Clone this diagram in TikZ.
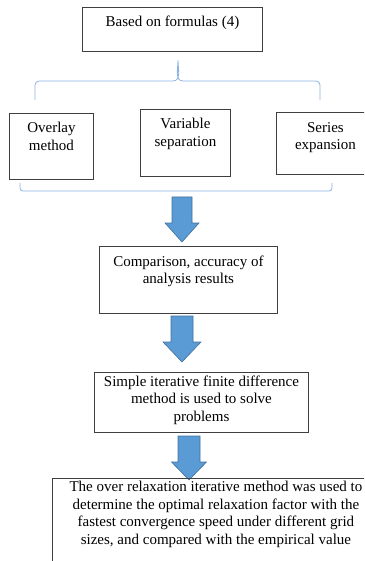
\documentclass[tikz,border=0pt]{standalone}
\usepackage{fontspec}
\setmainfont{Liberation Serif}
\definecolor{boxline}{HTML}{3F3F3F}
\definecolor{bracecol}{HTML}{8DB3E2}
\definecolor{arrowfill}{HTML}{5B9BD5}
\definecolor{arrowedge}{HTML}{41719C}
\tikzset{
  flowbox/.style={draw=boxline, line width=0.9pt, anchor=north west,
    inner xsep=0pt, inner ysep=#1, font=\fontsize{15}{17.5}\selectfont},
  flowbox/.default=9pt,
  bracket/.style={draw=bracecol, line width=0.8pt},
  blockarrow/.style={fill=arrowfill, draw=arrowedge, line width=0.6pt, line join=miter}
}
% top-aligned, centred text block of given inner height and width
\newcommand\boxtext[3]{\parbox[t][#1][t]{#2}{\centering #3}}
% down-pointing block arrow: centre x, top, neck, tip, shaft half width, head half width
\newcommand\flowarrow[6]{%
  \filldraw[blockarrow] ({#1-#5},#2) -- ({#1+#5},#2) -- ({#1+#5},#3) -- ({#1+#6},#3)
    -- (#1,#4) -- ({#1-#6},#3) -- ({#1-#5},#3) -- cycle;}
\begin{document}
\begin{tikzpicture}[x=1pt,y=-1pt]
\useasboundingbox (0,0) rectangle (364,561);
\clip (0,0) rectangle (364,561);

% source box
\node[flowbox=8pt] (formulas) at (82,7) {\boxtext{28pt}{180pt}{Based on formulas (4)}};

% brace fanning out to the three methods
\draw[bracket] (35,100) -- (35,85) to[out=90,in=180] (39,81) -- (173,81)
  to[out=0,in=-90] (178,60) to[out=-90,in=180] (183,81) -- (316,81)
  to[out=0,in=90] (320,85) -- (320,100);

% the three analytical methods
\node[flowbox=9pt] (overlay) at (9,113) {\boxtext{48pt}{84pt}{Overlay\\method}};
\node[flowbox=9pt] (separation) at (140,109) {\boxtext{49pt}{90pt}{Variable\\separation}};
\node[flowbox=10pt] (series) at (276,112) {\boxtext{42pt}{98pt}{Series\\expansion}};

% bracket gathering the methods
\draw[bracket] (20,183) -- (20,188) to[out=-90,in=180] (23,191) -- (329,191)
  to[out=0,in=-90] (332,188) -- (332,183);

\flowarrow{182}{197}{223}{242}{10}{17}

\node[flowbox=9pt] (comparison) at (99,246) {\boxtext{49pt}{178pt}{Comparison, accuracy of\\analysis results}};

\flowarrow{182}{316}{342}{362}{11}{19}

\node[flowbox=3pt] (simple) at (94,372) {\boxtext{54pt}{214pt}{Simple iterative finite difference\\method is used to solve\\problems}};

\flowarrow{189}{436}{462}{480}{11}{17.5}

\node[flowbox=3pt] (sor) at (52,478) {\boxtext{94pt}{327pt}{The over relaxation iterative method was used to\\determine the optimal relaxation factor with the\\fastest convergence speed under different grid\\sizes, and compared with the empirical value}};
\end{tikzpicture}
\end{document}
